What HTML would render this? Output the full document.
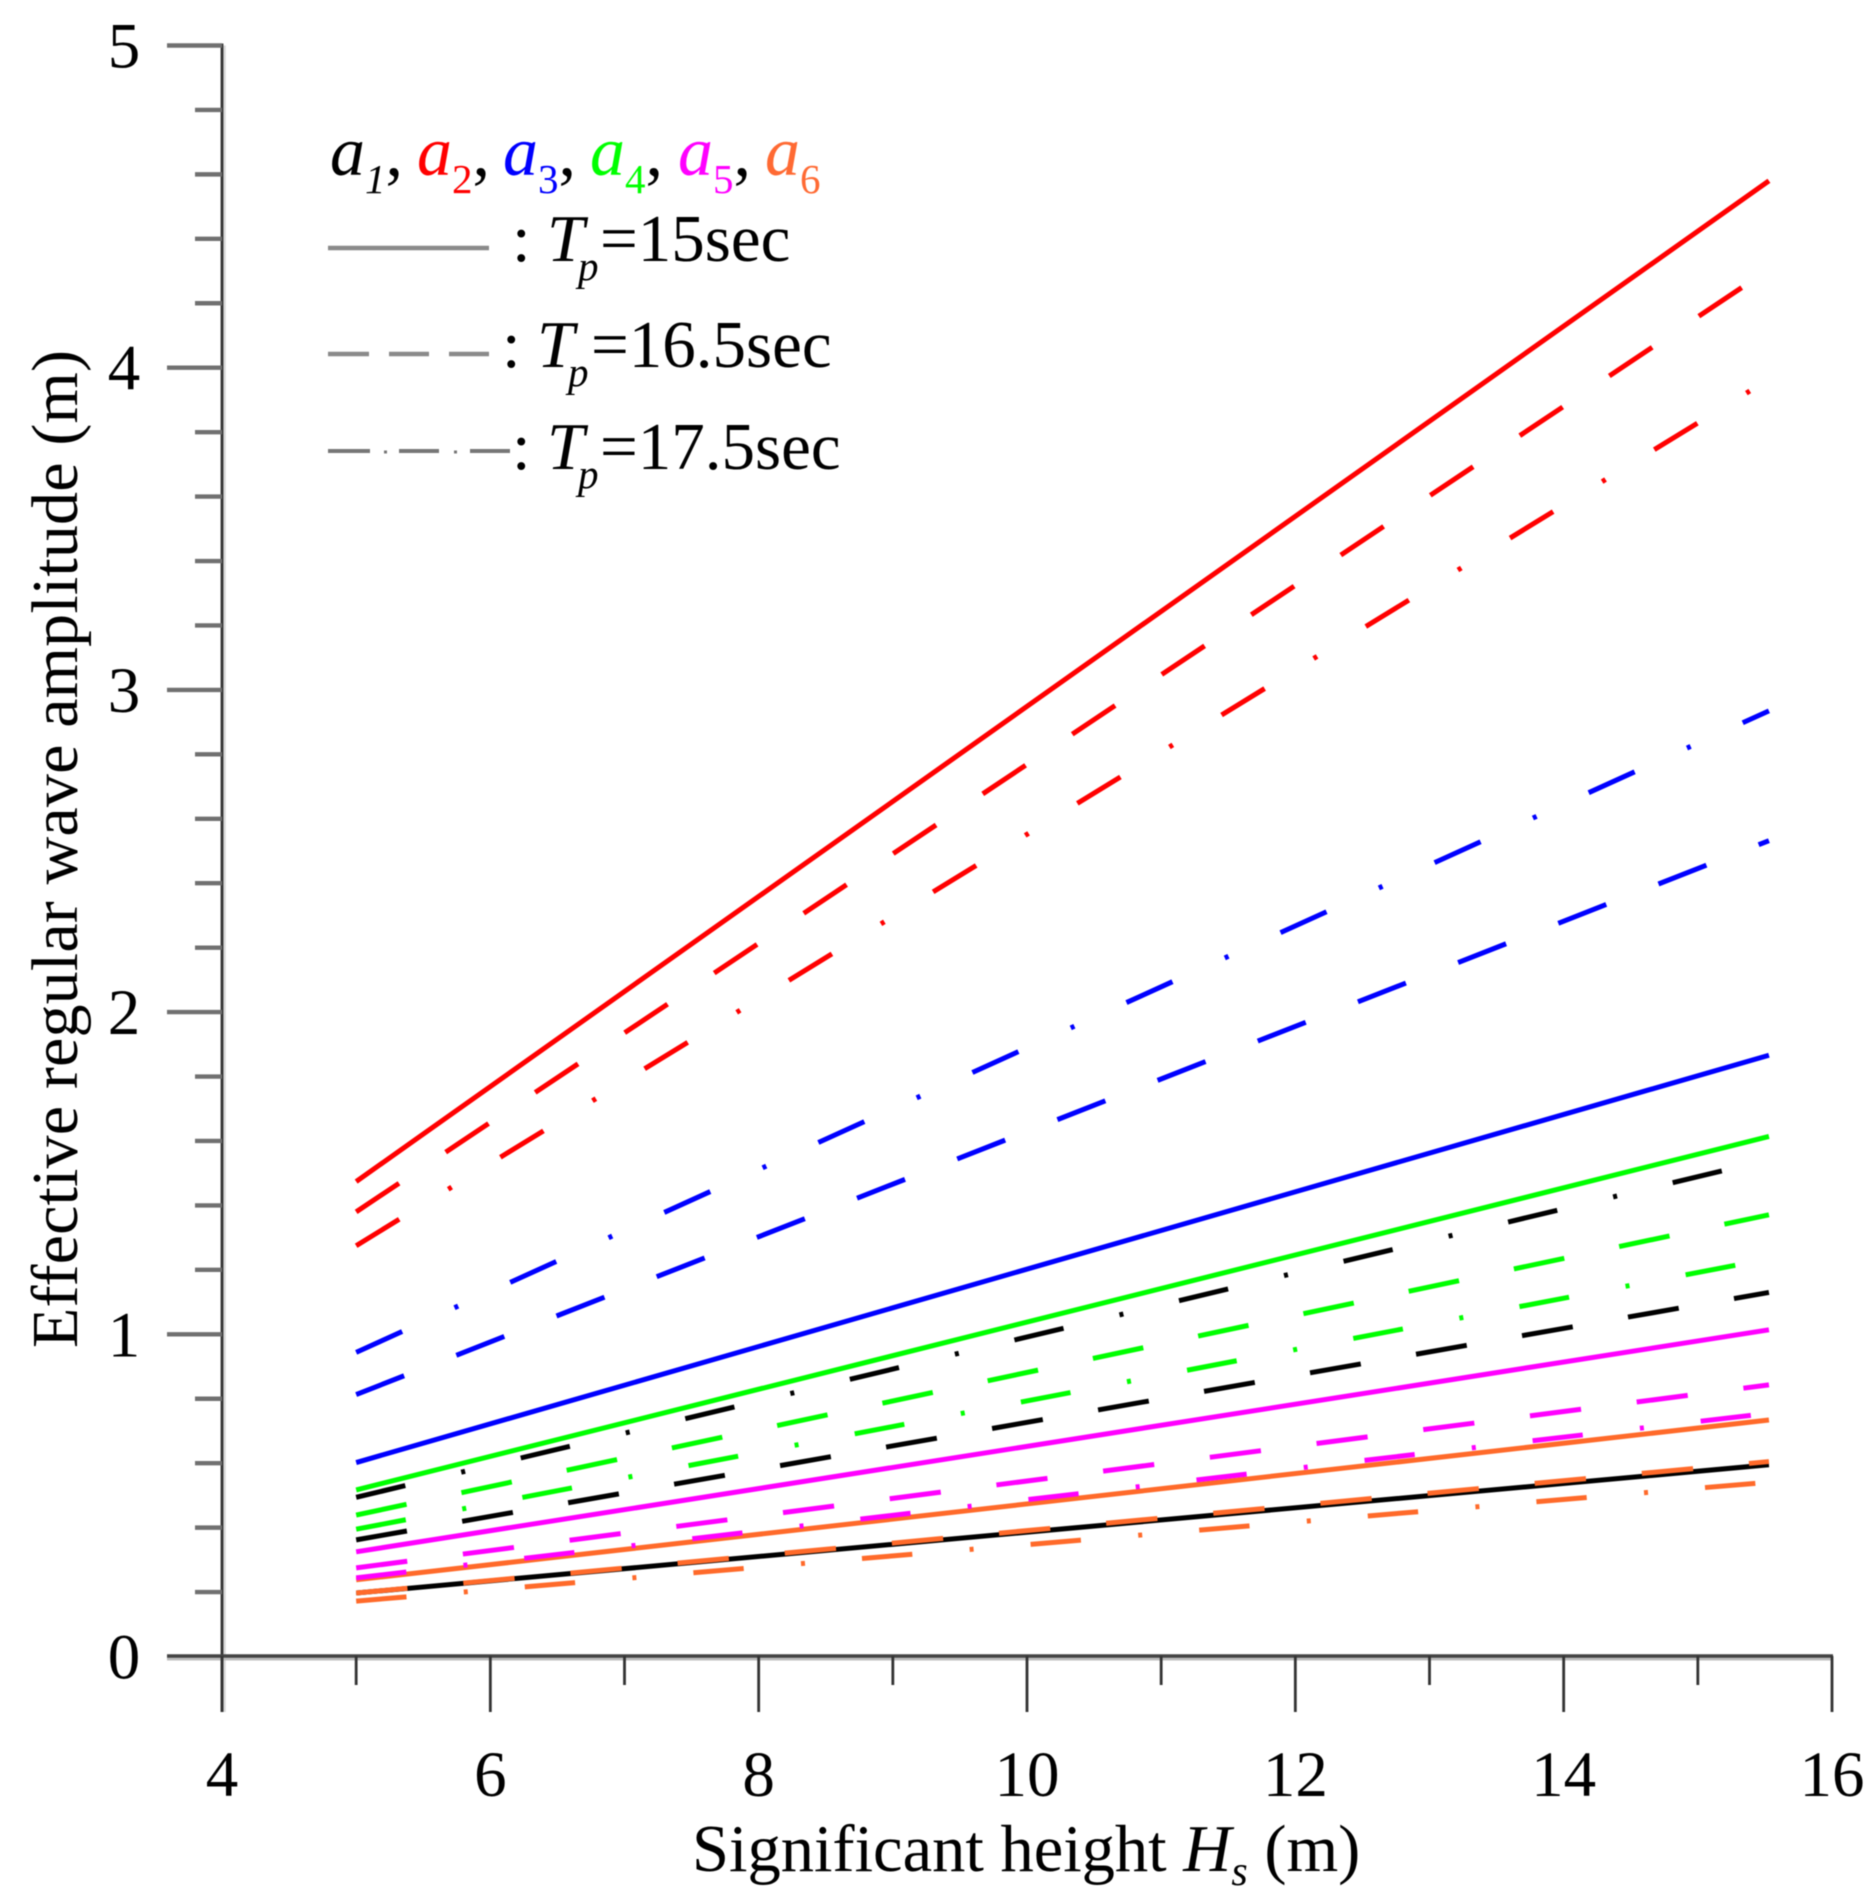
<!DOCTYPE html>
<html lang="en">
<head>
<meta charset="utf-8">
<title>Effective regular wave amplitude vs significant height</title>
<style>
  html, body { margin: 0; padding: 0; background: #fff; width: 1875px; height: 1900px; overflow: hidden; }
  svg { display: block; filter: blur(0.6px); }
  text { font-family: "Liberation Serif", "Times New Roman", serif; fill: #000; }
  .lg { font-size: 67px; }
  .sub { font-size: 41px; }
</style>
</head>
<body>
<svg id="chart" xmlns="http://www.w3.org/2000/svg" width="1875" height="1900" viewBox="0 0 1875 1900">
  <rect x="0" y="0" width="1875" height="1900" fill="#fff"/>
  <g id="axes"></g>
  <g id="marks"></g>

  <text transform="translate(77,849) rotate(-90)" text-anchor="middle" font-size="66" textLength="998" lengthAdjust="spacing">Effective regular wave amplitude (m)</text>
  <text x="692" y="1871" font-size="66.5">Significant height <tspan font-style="italic">H</tspan><tspan font-style="italic" font-size="42" dy="14">s</tspan><tspan dy="-14"> (m)</tspan></text>

  <g>
    <g font-size="70">
      <text x="330" y="175" style="fill:#000"><tspan font-style="italic">a</tspan><tspan font-style="italic" font-size="41" dy="18">1</tspan><tspan dy="-18">,</tspan></text>
      <text x="417" y="175" style="fill:#ff0000"><tspan font-style="italic">a</tspan><tspan font-size="41" dy="18">2</tspan><tspan dy="-18" style="fill:#000">,</tspan></text>
      <text x="503" y="175" style="fill:#0000ff"><tspan font-style="italic">a</tspan><tspan font-size="41" dy="18">3</tspan><tspan dy="-18" style="fill:#000">,</tspan></text>
      <text x="590" y="175" style="fill:#00ff00"><tspan font-style="italic">a</tspan><tspan font-size="41" dy="18">4</tspan><tspan dy="-18" style="fill:#000">,</tspan></text>
      <text x="678" y="175" style="fill:#ff00ff"><tspan font-style="italic">a</tspan><tspan font-size="41" dy="18">5</tspan><tspan dy="-18" style="fill:#000">,</tspan></text>
      <text x="765" y="175" style="fill:#ff6a33"><tspan font-style="italic">a</tspan><tspan font-size="41" dy="18">6</tspan></text>
    </g>

    <line x1="328" y1="248" x2="489" y2="248" stroke="#8a8a8a" stroke-width="4.5"/>
    <text class="lg" y="261"><tspan x="512">:</tspan><tspan x="547" font-style="italic">T</tspan><tspan x="578" dy="19" class="sub" font-style="italic">p</tspan><tspan x="600" dy="-19">=15sec</tspan></text>

    <line x1="328" y1="354" x2="369" y2="354" stroke="#8a8a8a" stroke-width="4.5"/>
    <line x1="389" y1="354" x2="429" y2="354" stroke="#8a8a8a" stroke-width="4.5"/>
    <line x1="449" y1="354" x2="489" y2="354" stroke="#8a8a8a" stroke-width="4.5"/>
    <text class="lg" y="367"><tspan x="502">:</tspan><tspan x="537" font-style="italic">T</tspan><tspan x="568" dy="19" class="sub" font-style="italic">p</tspan><tspan x="591" dy="-19">=16.5sec</tspan></text>

    <line x1="328" y1="451" x2="370" y2="451" stroke="#777" stroke-width="4"/>
    <line x1="384" y1="452" x2="387" y2="452" stroke="#777" stroke-width="3"/>
    <line x1="399" y1="451" x2="439" y2="451" stroke="#777" stroke-width="4"/>
    <line x1="454" y1="452" x2="457" y2="452" stroke="#777" stroke-width="3"/>
    <line x1="470" y1="451" x2="510" y2="451" stroke="#777" stroke-width="4"/>
    <text class="lg" y="469"><tspan x="512">:</tspan><tspan x="547" font-style="italic">T</tspan><tspan x="578" dy="19" class="sub" font-style="italic">p</tspan><tspan x="600" dy="-19">=17.5sec</tspan></text>
  </g>
</svg>

<script>
// ---- chart data ----
const hsPoints = [5, 15.53];

const a1Tp15 = [0.197, 0.595];
const a2Tp15 = [1.474, 4.580];
const a3Tp15 = [0.602, 1.866];
const a4Tp15 = [0.517, 1.614];
const a5Tp15 = [0.325, 1.014];
const a6Tp15 = [0.238, 0.734];

const a1Tp165 = [0.362, 1.130];
const a2Tp165 = [1.380, 4.305];
const a3Tp165 = [0.813, 2.532];
const a4Tp165 = [0.439, 1.371];
const a5Tp165 = [0.275, 0.843];
const a6Tp165 = [0.197, 0.605];

const a1Tp175 = [0.494, 1.542];
const a2Tp175 = [1.275, 3.964];
const a3Tp175 = [0.944, 2.935];
const a4Tp175 = [0.395, 1.234];
const a5Tp175 = [0.244, 0.755];
const a6Tp175 = [0.172, 0.541];

const xMajorTicks = [4, 6, 8, 10, 12, 14, 16];
const xMinorTicks = [5, 7, 9, 11, 13, 15];
const yMajorTicks = [0, 1, 2, 3, 4, 5];
const yMinorTicks = [0.2, 0.4, 0.6, 0.8, 1.2, 1.4, 1.6, 1.8, 2.2, 2.4, 2.6, 2.8, 3.2, 3.4, 3.6, 3.8, 4.2, 4.4, 4.6, 4.8];

// ---- axis functions ----
const SVGNS = 'http://www.w3.org/2000/svg';
function xPos(v) { return 222 + (v - 4) * (1832 - 222) / 12; }
function yPos(v) { return 1656.5 - v * (1656.5 - 45.5) / 5; }

const axes = document.getElementById('axes');
const marks = document.getElementById('marks');

function makeLine(parent, x1, y1, x2, y2, color, width) {
  const el = document.createElementNS(SVGNS, 'line');
  el.setAttribute('x1', x1);
  el.setAttribute('y1', y1);
  el.setAttribute('x2', x2);
  el.setAttribute('y2', y2);
  el.setAttribute('stroke', color);
  el.setAttribute('stroke-width', width);
  parent.appendChild(el);
  return el;
}

function makeLabel(parent, x, y, str, anchor) {
  const el = document.createElementNS(SVGNS, 'text');
  el.setAttribute('x', x);
  el.setAttribute('y', y);
  el.setAttribute('font-size', '65');
  el.setAttribute('text-anchor', anchor);
  el.textContent = str;
  parent.appendChild(el);
  return el;
}

// soft grey halos from the resampled original
const yAxisHalo = makeLine(axes, 224.5, yPos(5), 224.5, 1712, '#d8d8d8', 2.5);


const xAxisHalo = makeLine(axes, 167, 1659, xPos(16), 1659, '#bdbdbd', 3);



const yAxisLine = makeLine(axes, 222, yPos(5) - 2, 222, 1712, '#333', 2.8);


const xAxisLine = makeLine(axes, 167, 1656, xPos(16) + 1, 1656, '#444', 3.6);



xMajorTicks.forEach(function (v) {
  const tick = makeLine(axes, xPos(v), 1656, xPos(v), 1712, '#333', 2.8);
  
  
  const label = makeLabel(axes, xPos(v), 1796, String(v), 'middle');
  
  
});
xMinorTicks.forEach(function (v) {
  const tick = makeLine(axes, xPos(v), 1656, xPos(v), 1685, '#333', 2.8);
  
  
});
yMajorTicks.forEach(function (v) {
  if (v !== 0) {
    const tick = makeLine(axes, 167, yPos(v), 222, yPos(v), '#707070', 4.4);
    
    
  }
  const label = makeLabel(axes, 124, yPos(v) + 22, String(v), 'middle');
  
  
});
yMinorTicks.forEach(function (v) {
  const tick = makeLine(axes, 195, yPos(v), 222, yPos(v), '#707070', 4.4);
  
  
});

// ---- series ----
const BLACK = '#000000', RED = '#ff0000', BLUE = '#0000ff', GREEN = '#00ff00', MAGENTA = '#ff00ff', ORANGE = '#ff6a2a';
const DASHED = '51.5 56.1';
const DASHDOT = '50.5 57.5 4 57.2';

function drawSeries(values, color, dash, name) {
  const el = document.createElementNS(SVGNS, 'polyline');
  const pts = values.map(function (v, i) { return xPos(hsPoints[i]) + ',' + yPos(v); }).join(' ');
  el.setAttribute('points', pts);
  el.setAttribute('fill', 'none');
  el.setAttribute('stroke', color);
  el.setAttribute('stroke-width', '5');
  if (dash) { el.setAttribute('stroke-dasharray', dash); }
  
  
  marks.appendChild(el);
}

drawSeries(a1Tp15, BLACK, null, 'a1-tp15-line');
drawSeries(a2Tp15, RED, null, 'a2-tp15-line');
drawSeries(a3Tp15, BLUE, null, 'a3-tp15-line');
drawSeries(a4Tp15, GREEN, null, 'a4-tp15-line');
drawSeries(a5Tp15, MAGENTA, null, 'a5-tp15-line');
drawSeries(a6Tp15, ORANGE, null, 'a6-tp15-line');

drawSeries(a1Tp165, BLACK, DASHED, 'a1-tp165-line');
drawSeries(a2Tp165, RED, DASHED, 'a2-tp165-line');
drawSeries(a3Tp165, BLUE, DASHED, 'a3-tp165-line');
drawSeries(a4Tp165, GREEN, DASHED, 'a4-tp165-line');
drawSeries(a5Tp165, MAGENTA, DASHED, 'a5-tp165-line');
drawSeries(a6Tp165, ORANGE, DASHED, 'a6-tp165-line');

drawSeries(a1Tp175, BLACK, DASHDOT, 'a1-tp175-line');
drawSeries(a2Tp175, RED, DASHDOT, 'a2-tp175-line');
drawSeries(a3Tp175, BLUE, DASHDOT, 'a3-tp175-line');
drawSeries(a4Tp175, GREEN, DASHDOT, 'a4-tp175-line');
drawSeries(a5Tp175, MAGENTA, DASHDOT, 'a5-tp175-line');
drawSeries(a6Tp175, ORANGE, DASHDOT, 'a6-tp175-line');
</script>
</body>
</html>
